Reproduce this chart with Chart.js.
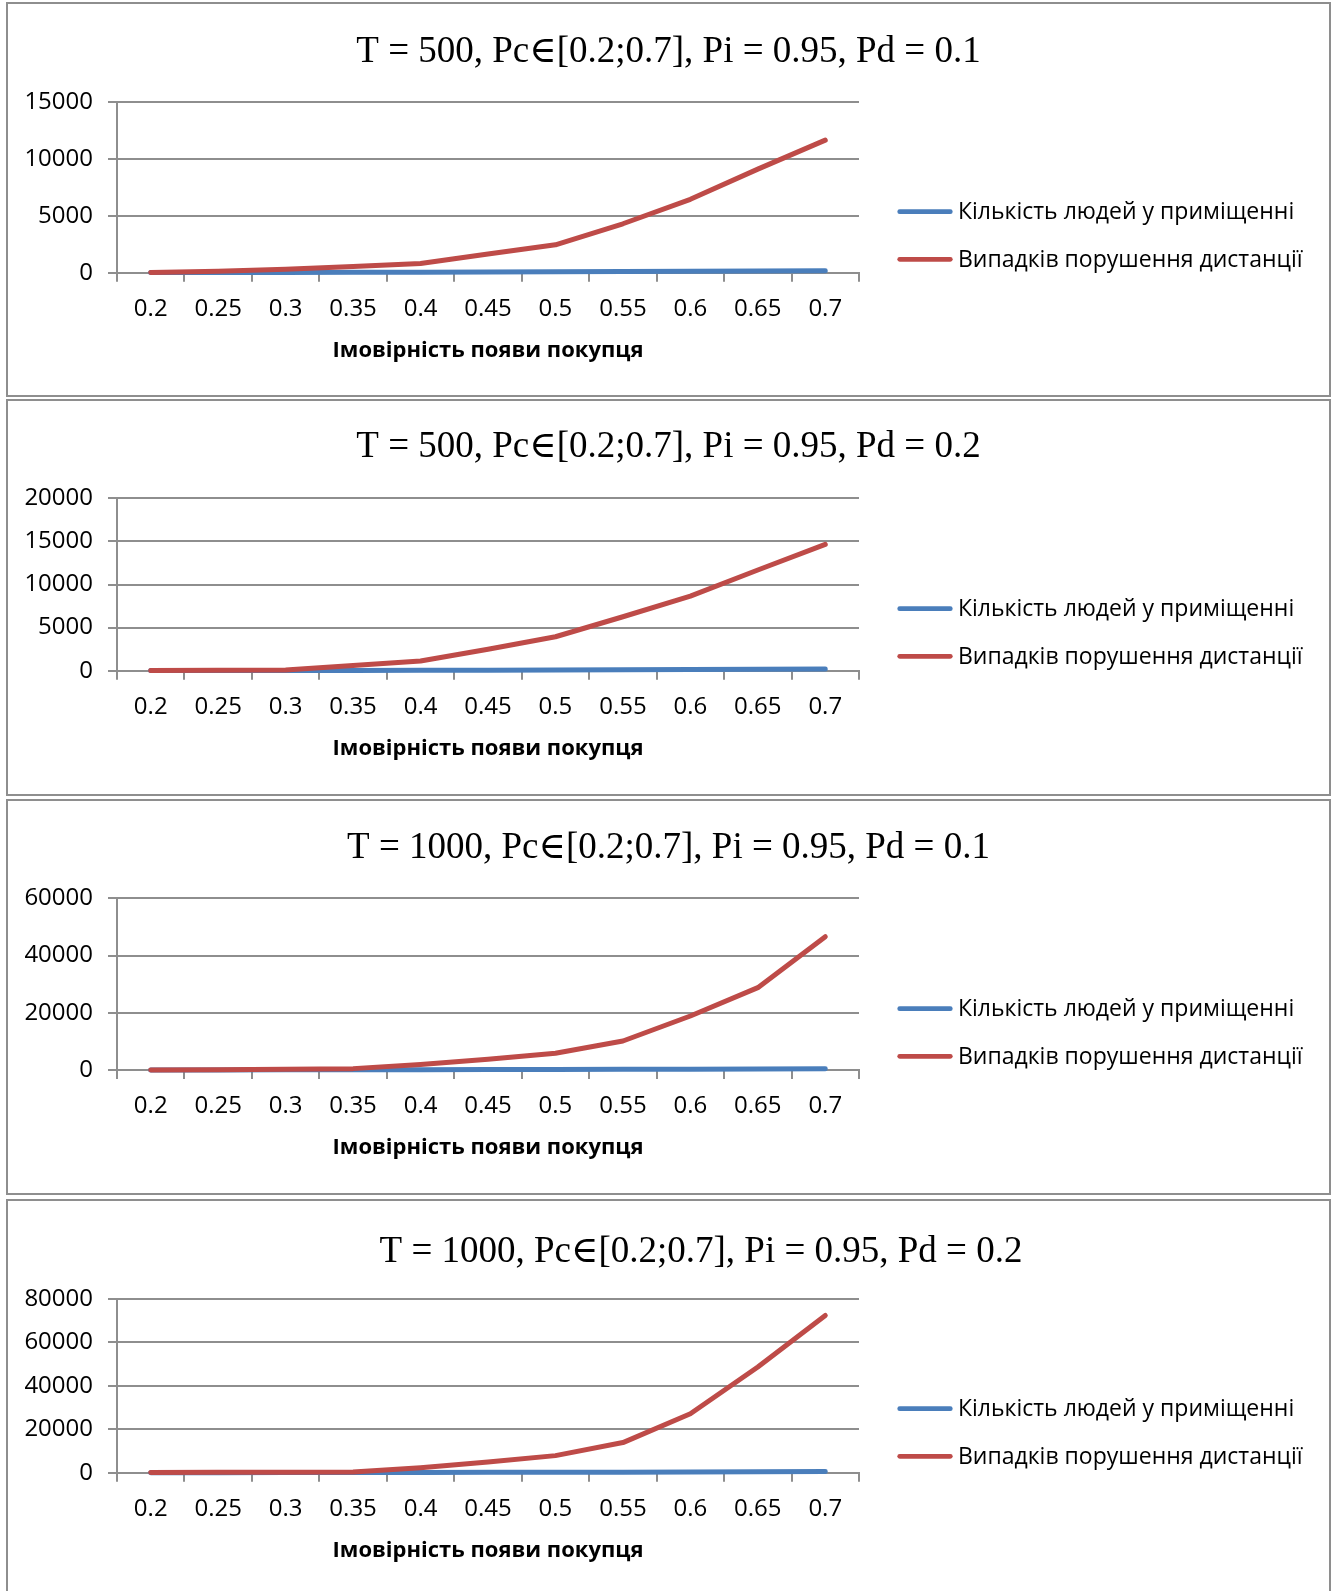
<!DOCTYPE html>
<html>
<head>
<meta charset="utf-8">
<script src="https://cdn.jsdelivr.net/npm/chart.js@4.4.1/dist/chart.umd.min.js"></script>
<style>
  html, body { margin: 0; padding: 0; background: #fff; width: 1341px; height: 1591px; overflow: hidden; }
  .panel { position: absolute; left: 0; }
  .panel canvas { position: absolute; left: 0; top: 0; }
  .frame { position: absolute; left: 6px; width: 1325px; border: 2px solid #8e8e8e; box-sizing: border-box; pointer-events: none; }
</style>
</head>
<body>
<script>
// Probability of a customer arriving (x axis categories)
const categories = ['0.2', '0.25', '0.3', '0.35', '0.4', '0.45', '0.5', '0.55', '0.6', '0.65', '0.7'];

const seriesNames = ['Кількість людей у приміщенні', 'Випадків порушення дистанції'];
const axisTitle = 'Імовірність появи покупця';

const titles = [
  'T = 500, Pc\u2208[0.2;0.7], Pi = 0.95, Pd = 0.1',
  'T = 500, Pc\u2208[0.2;0.7], Pi = 0.95, Pd = 0.2',
  'T = 1000, Pc\u2208[0.2;0.7], Pi = 0.95, Pd = 0.1',
  'T = 1000, Pc\u2208[0.2;0.7], Pi = 0.95, Pd = 0.2'
];

// People in the room
const peopleT500Pd01  = [10, 15, 22, 32, 45, 58, 75, 95, 118, 145, 175];
const peopleT500Pd02  = [10, 15, 22, 33, 46, 62, 80, 102, 128, 160, 200];
const peopleT1000Pd01 = [15, 30, 50, 75, 105, 140, 185, 235, 295, 370, 460];
const peopleT1000Pd02 = [15, 30, 55, 80, 115, 155, 200, 260, 330, 420, 530];

// Distance violations
const violT500Pd01  = [20, 130, 300, 540, 810, 1650, 2450, 4300, 6450, 9100, 11650];
const violT500Pd02  = [30, 40, 80, 600, 1120, 2480, 3940, 6260, 8660, 11680, 14660];
const violT1000Pd01 = [30, 100, 250, 480, 1900, 3740, 5840, 10140, 18880, 28780, 46600];
const violT1000Pd02 = [80, 180, 240, 350, 2300, 4900, 7850, 13850, 27100, 48600, 72300];

// Y axis ranges and tick steps
const yMax  = [15000, 20000, 60000, 80000];
const yStep = [5000, 5000, 20000, 20000];

const peopleSeries = [peopleT500Pd01, peopleT500Pd02, peopleT1000Pd01, peopleT1000Pd02];
const violSeries   = [violT500Pd01, violT500Pd02, violT1000Pd01, violT1000Pd02];

// Geometry of each framed panel (page pixels)
const layouts = [
  { top: 2,    frame: 395,   canvasW: 1337, titleMid: 49.8, areaTop: 100.0, areaBottom: 270.7 },
  { top: 399,  frame: 396.5, canvasW: 1337, titleMid: 48.2, areaTop: 99.3,  areaBottom: 271.7 },
  { top: 799,  frame: 396,   canvasW: 1337, titleMid: 49.2, areaTop: 99.3,  areaBottom: 271.0 },
  { top: 1199, frame: 400,   canvasW: 1402, titleMid: 53.2, areaTop: 99.7,  areaBottom: 273.7 }
];
const CANVAS_H = 396;
const AREA_LEFT = 117;
const AREA_RIGHT = 859;

const gridColor = '#8e8e8e';
const blue = '#4a7ebb';
const red = '#be4b48';
const sansFamily = "'Open Sans', 'Liberation Sans', sans-serif";

Chart.defaults.font.family = sansFamily;
Chart.defaults.color = '#000';

// Legend drawn as short line strokes beside the plot
const lineLegend = {
  id: 'lineLegend',
  afterDraw(chart, args, opts) {
    const ctx = chart.ctx;
    ctx.save();
    opts.order.forEach((dsIndex, row) => {
      const ds = chart.data.datasets[dsIndex];
      const y = opts.y + row * opts.rowGap;
      ctx.beginPath();
      ctx.moveTo(opts.x1, y);
      ctx.lineTo(opts.x2, y);
      ctx.lineWidth = opts.lineWidth;
      ctx.lineCap = 'round';
      ctx.strokeStyle = ds.borderColor;
      ctx.stroke();
      ctx.font = opts.font;
      ctx.fillStyle = '#000';
      ctx.textAlign = 'left';
      ctx.textBaseline = 'middle';
      ctx.fillText(ds.label, opts.textX, y + opts.textDy);
    });
    ctx.restore();
  }
};

layouts.forEach((L, i) => {
  const panel = document.createElement('div');
  panel.className = 'panel';
  panel.style.top = L.top + 'px';
  const canvas = document.createElement('canvas');
  canvas.width = L.canvasW;
  canvas.height = CANVAS_H;
  canvas.style.width = L.canvasW + 'px';
  canvas.style.height = CANVAS_H + 'px';
  panel.appendChild(canvas);
  const frame = document.createElement('div');
  frame.className = 'frame';
  frame.style.top = '0px';
  frame.style.height = L.frame + 'px';
  panel.appendChild(frame);
  document.body.appendChild(panel);

  const titleFont = 37, titleLH = titleFont * 1.2;
  const titlePadTop = L.titleMid - titleLH / 2;
  const titlePadBottom = L.areaTop - titlePadTop - titleLH;
  const axisFont = 22;
  const axisTitleMid = L.areaBottom + 78;
  const axisTitlePadBottom = CANVAS_H - axisTitleMid - axisFont * 1.2 / 2;

  new Chart(canvas, {
    type: 'line',
    data: {
      labels: categories,
      datasets: [
        {
          label: seriesNames[0],
          data: peopleSeries[i],
          borderColor: blue,
          backgroundColor: blue,
          borderWidth: 5,
          pointRadius: 0,
          tension: 0,
          borderJoinStyle: 'round',
          borderCapStyle: 'round',
          clip: false,
          order: 1
        },
        {
          label: seriesNames[1],
          data: violSeries[i],
          borderColor: red,
          backgroundColor: red,
          borderWidth: 5,
          pointRadius: 0,
          tension: 0,
          borderJoinStyle: 'round',
          borderCapStyle: 'round',
          clip: false,
          order: 0
        }
      ]
    },
    options: {
      responsive: false,
      animation: false,
      devicePixelRatio: 1,
      layout: { padding: 0 },
      plugins: {
        legend: { display: false },
        tooltip: { enabled: false },
        title: {
          display: true,
          text: titles[i],
          color: '#000',
          font: { family: "'Liberation Serif', 'DejaVu Serif', serif", size: titleFont, weight: 'normal' },
          padding: { top: titlePadTop, bottom: titlePadBottom }
        },
        lineLegend: {
          order: [0, 1],
          x1: 899.7, x2: 950.3,
          y: 209.7, rowGap: 47.6,
          lineWidth: 4.75,
          textX: 958, textDy: 1,
          font: '23px ' + sansFamily
        }
      },
      scales: {
        x: {
          type: 'category',
          offset: true,
          grid: { offset: true, drawOnChartArea: false, drawTicks: true, tickLength: 9, color: gridColor, lineWidth: 2 },
          border: { display: true, color: gridColor, width: 2 },
          ticks: { color: '#000', font: { size: 24 }, padding: 13, maxRotation: 0, autoSkip: false },
          title: {
            display: true,
            text: axisTitle,
            color: '#000',
            font: { size: axisFont, weight: 'bold' },
            padding: { top: 0, bottom: axisTitlePadBottom }
          },
          afterFit(a) { a.height = CANVAS_H - L.areaBottom; }
        },
        y: {
          min: 0,
          max: yMax[i],
          ticks: { stepSize: yStep[i], color: '#000', font: { size: 24 }, padding: 15, callback: v => String(v) },
          grid: { color: gridColor, lineWidth: 2, tickLength: 9, drawTicks: true },
          border: { display: true, color: gridColor, width: 2 },
          afterFit(a) { a.width = AREA_LEFT; }
        },
        legendSpace: {
          type: 'linear',
          position: 'right',
          display: true,
          grid: { display: false },
          ticks: { display: false },
          border: { display: false },
          afterFit(a) { a.width = L.canvasW - AREA_RIGHT; }
        }
      }
    },
    plugins: [lineLegend]
  });
});
</script>
</body>
</html>
